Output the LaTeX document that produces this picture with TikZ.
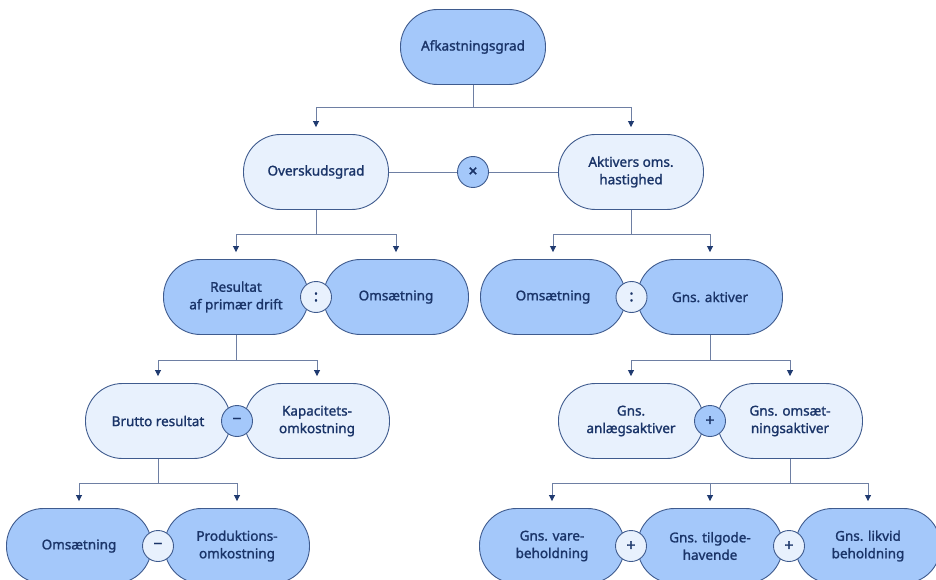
\documentclass[tikz,border=0pt]{standalone}
\usepackage{fontspec}
\setmainfont{Noto Sans}
\newfontfamily\medfont[FakeBold=1.4]{Noto Sans}
\newfontfamily\opfont[FakeBold=1.5]{Noto Sans}
\usetikzlibrary{arrows.meta,positioning}
\definecolor{darkfill}{HTML}{A4C8FA}
\definecolor{lightfill}{HTML}{E8F1FD}
\definecolor{edgec}{HTML}{3F5B8E}
\definecolor{txtc}{HTML}{1A3468}
\definecolor{linec}{HTML}{6E7FA3}
\definecolor{tipc}{HTML}{1F3A70}
\tikzset{
  pill/.style={draw=edgec, line width=0.9pt, rectangle, rounded corners=37pt,
    minimum width=145pt, minimum height=75pt, text=txtc, align=center,
    font=\medfont\fontsize{13.5}{17.5}\selectfont, inner sep=0pt},
  dpill/.style={pill, fill=darkfill},
  lpill/.style={pill, fill=lightfill},
  op/.style={draw=edgec, line width=0.9pt, circle, minimum size=31pt, inner sep=0pt,
    text=txtc, font=\opfont\fontsize{16}{16}\selectfont},
  dop/.style={op, fill=darkfill},
  lop/.style={op, fill=lightfill},
  conn/.style={draw=linec, line width=0.9pt},
  arr/.style={conn, -{Triangle[length=6pt,width=6pt,fill=tipc,color=tipc]}, shorten >=7pt},
}
\begin{document}
\begin{tikzpicture}[x=1pt,y=1pt]
\useasboundingbox (0,0) rectangle (936,579);
\clip (0,0) rectangle (936,579);
\fill[white] (0,0) rectangle (936,579);
% nodes
\node[dpill] (top) at (473,532) {Afkastningsgrad};
\node[lpill] (over) at (316,407) {Overskudsgrad};
\node[lpill] (akt) at (631,407) {Aktivers oms.\\hastighed};
\node[dpill] (res) at (236,282) {Resultat\\af primær drift};
\node[dpill] (omsA) at (396,282) {Omsætning};
\node[dpill] (omsB) at (553,282) {Omsætning};
\node[dpill] (gnsakt) at (710,282) {Gns. aktiver};
\node[lpill] (brutto) at (158,158) {Brutto resultat};
\node[lpill] (kap) at (317,158) {Kapacitets-\\omkostning};
\node[lpill] (anl) at (631,158) {Gns.\\anlægsaktiver};
\node[lpill] (omsakt) at (790,158) {Gns. omsæt-\\ningsaktiver};
\node[dpill] (omsC) at (79,33) {Omsætning};
\node[dpill] (prod) at (237,33) {Produktions-\\omkostning};
\node[dpill] (vare) at (552,33) {Gns. vare-\\beholdning};
\node[dpill] (tilg) at (710,33) {Gns. tilgode-\\havende};
\node[dpill] (likv) at (868,33) {Gns. likvid\\beholdning};
% operators
\node[dop] (times) at (473,407) {×};
\draw[conn] (over.east) -- (times.west);
\draw[conn] (times.east) -- (akt.west);
\node[lop] (colA) at (316,282) {:};
\node[lop] (colB) at (631.5,282) {:};
\node[dop] (minA) at (237,158) {−};
\node[dop] (plusA) at (710,158) {+};
\node[lop] (minB) at (158,33) {−};
\node[lop] (plusB) at (631,33) {+};
\node[lop] (plusC) at (789,33) {+};
% connectors
\draw[conn] (top.south) -- ++(0,-23) coordinate (j0);
\draw[arr] (j0) -| (over.north);
\draw[arr] (j0) -| (akt.north);
\draw[conn] (over.south) -- ++(0,-25) coordinate (j1);
\draw[arr] (j1) -| (res.north);
\draw[arr] (j1) -| (omsA.north);
\draw[conn] (akt.south) -- ++(0,-25) coordinate (j2);
\draw[arr] (j2) -| (omsB.north);
\draw[arr] (j2) -| (gnsakt.north);
\draw[conn] (res.south) -- ++(0,-25) coordinate (j3);
\draw[arr] (j3) -| (brutto.north);
\draw[arr] (j3) -| (kap.north);
\draw[conn] (gnsakt.south) -- ++(0,-25) coordinate (j4);
\draw[arr] (j4) -| (anl.north);
\draw[arr] (j4) -| (omsakt.north);
\draw[conn] (brutto.south) -- ++(0,-24) coordinate (j5);
\draw[arr] (j5) -| (omsC.north);
\draw[arr] (j5) -| (prod.north);
\draw[conn] (omsakt.south) -- ++(0,-24) coordinate (j6);
\draw[arr] (j6) -| (vare.north);
\draw[arr] (j6) -| (likv.north);
\draw[arr] (tilg.north |- j6) -- (tilg.north);
\end{tikzpicture}
\end{document}
